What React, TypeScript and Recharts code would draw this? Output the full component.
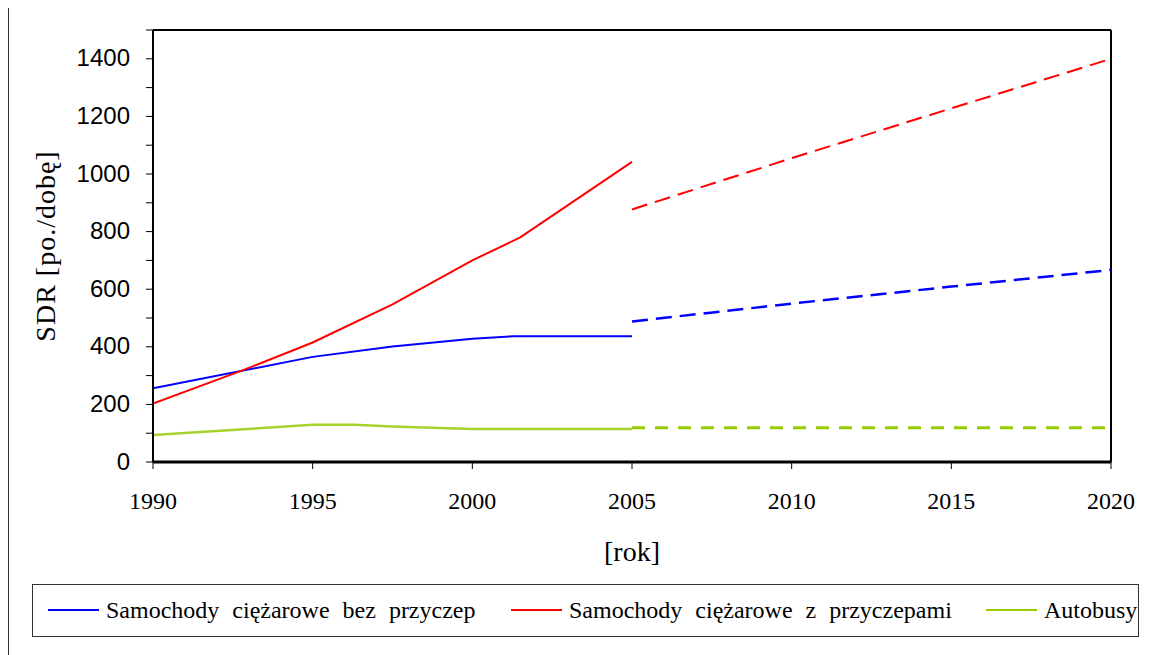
import { LineChart, Line, XAxis, YAxis, ReferenceLine } from "recharts";

// historical data (solid lines)
const histYearsBlue = [1990, 1995, 1997.5, 2000, 2001.3, 2005];
const histBlue = [256, 365, 401, 428, 437, 437];
const histYearsRed = [1990, 1992.8, 1995, 1997.5, 2000, 2001.5, 2005];
const histRed = [203, 318, 415, 547, 700, 780, 1042];
const histYearsGreen = [1990, 1995, 1996.3, 1997.5, 2000, 2005];
const histGreen = [94, 129, 129, 123, 115, 115];

// forecast (dashed lines)
const forecastYears = [2005, 2010, 2015, 2020];
const fcBlue = [488, 550, 609, 667];
const fcRed = [877, 1055, 1228, 1400];
const fcGreen = [119, 119, 119, 119];

const xTicks = [1990, 1995, 2000, 2005, 2010, 2015, 2020];
const yTicks = [0, 100, 200, 300, 400, 500, 600, 700, 800, 900, 1000, 1100, 1200, 1300, 1400, 1500];

const seriesNames = [
  "Samochody ciężarowe bez przyczep",
  "Samochody ciężarowe z przyczepami",
  "Autobusy",
];

const BLUE = "#0000ff";
const RED = "#ff0000";
const GREEN = "#99cc00";
const GREEN_LIGHT = "#a6d22e";

const toRows = (years: number[], vals: number[]) =>
  years.map((year, i) => ({ year, v: vals[i] }));

const css = `
.chart-root, .chart-root .tms { font-family: "Liberation Serif", "Times New Roman", Tinos, serif !important; }
.chart-root .ar { font-family: "Liberation Sans", Arial, sans-serif !important; }
`;

function YTick(props: any) {
  const { x, y, payload } = props;
  if (payload.value % 200 !== 0) return null;
  return (
    <text className="ar" x={x} y={y} dy="0.32em" textAnchor="end" fontSize={24} fill="#000">
      {payload.value}
    </text>
  );
}

function XTick(props: any) {
  const { x, y, payload } = props;
  return (
    <text className="tms" x={x} y={y} dy="0.71em" textAnchor="middle" fontSize={24} fill="#000">
      {payload.value}
    </text>
  );
}

function YTitle(props: any) {
  const vb = props.viewBox || { y: 22, height: 432 };
  const cy = vb.y + vb.height / 2;
  return (
    <text
      className="tms"
      x={37}
      y={cy}
      transform={`rotate(-90 37 ${cy})`}
      textAnchor="middle"
      dominantBaseline="central"
      fontSize={28}
      letterSpacing={1}
      fill="#000"
    >
      SDR [po./dobę]
    </text>
  );
}

function XTitle(props: any) {
  const vb = props.viewBox || { x: 145, width: 958 };
  return (
    <text className="tms" x={vb.x + vb.width / 2} y={553} textAnchor="middle" fontSize={28} fill="#000">
      [rok]
    </text>
  );
}

const legendItems = [
  { name: seriesNames[0], color: BLUE, left: 15 },
  { name: seriesNames[1], color: RED, left: 478 },
  { name: seriesNames[2], color: GREEN, left: 953 },
];

export default function App() {
  return (
    <div className="chart-root" style={{ position: "relative", width: 1150, height: 647 }}>
      <style>{css}</style>
      <div
        style={{
          position: "absolute",
          left: 0,
          top: -1,
          width: 1150,
          height: 648,
          borderLeft: "1.5px solid #333",
          borderTop: "1.5px solid #333",
          boxSizing: "border-box",
        }}
      />
      <LineChart
        width={1150}
        height={647}
        margin={{ top: 22, right: 47, left: 65, bottom: 153 }}
        style={{ position: "absolute", left: 0, top: 0 }}
      >
        <XAxis
          dataKey="year"
          type="number"
          domain={[1990, 2020]}
          ticks={xTicks}
          allowDataOverflow
          height={40}
          axisLine={{ stroke: "#000", strokeWidth: 3 }}
          tickLine={{ stroke: "#000", strokeWidth: 1 }}
          tickSize={7}
          tickMargin={23}
          tick={<XTick />}
          label={<XTitle />}
        />
        <YAxis
          type="number"
          domain={[0, 1500]}
          ticks={yTicks}
          allowDataOverflow
          width={80}
          axisLine={{ stroke: "#000", strokeWidth: 2 }}
          tickLine={{ stroke: "#000", strokeWidth: 1 }}
          tickSize={7}
          tickMargin={16}
          tick={<YTick />}
          interval={0}
          label={<YTitle />}
        />
        <ReferenceLine y={1500} stroke="#000" strokeWidth={2} />
        <ReferenceLine x={2020} stroke="#000" strokeWidth={2} />

        <Line data={toRows(histYearsBlue, histBlue)} dataKey="v" type="linear" stroke={BLUE} strokeWidth={2} dot={false} isAnimationActive={false} />
        <Line data={toRows(histYearsRed, histRed)} dataKey="v" type="linear" stroke={RED} strokeWidth={2} dot={false} isAnimationActive={false} />
        <Line data={toRows(histYearsGreen, histGreen)} dataKey="v" type="linear" stroke={GREEN_LIGHT} strokeWidth={2.5} dot={false} isAnimationActive={false} />

        <Line data={toRows(forecastYears, fcBlue)} dataKey="v" type="linear" stroke={BLUE} strokeWidth={2.5} strokeDasharray="16 8" dot={false} isAnimationActive={false} />
        <Line data={toRows(forecastYears, fcRed)} dataKey="v" type="linear" stroke={RED} strokeWidth={2} strokeDasharray="16 8" dot={false} isAnimationActive={false} />
        <Line data={toRows(forecastYears, fcGreen)} dataKey="v" type="linear" stroke={GREEN} strokeWidth={3} strokeDasharray="13 10" dot={false} isAnimationActive={false} />
      </LineChart>

      <div
        style={{
          position: "absolute",
          left: 24,
          top: 576,
          width: 1107,
          height: 53,
          border: "1.5px solid #333",
          boxSizing: "border-box",
          background: "#fff",
        }}
      >
        {legendItems.map((it) => (
          <div
            key={it.name}
            style={{
              position: "absolute",
              left: it.left,
              top: 0,
              height: 50,
              display: "flex",
              alignItems: "center",
              whiteSpace: "nowrap",
            }}
          >
            <span style={{ display: "inline-block", width: 51, height: 2, background: it.color, marginRight: 7 }} />
            <span className="tms" style={{ fontSize: 24, lineHeight: 1, wordSpacing: 7, color: "#000" }}>{it.name}</span>
          </div>
        ))}
      </div>
    </div>
  );
}
